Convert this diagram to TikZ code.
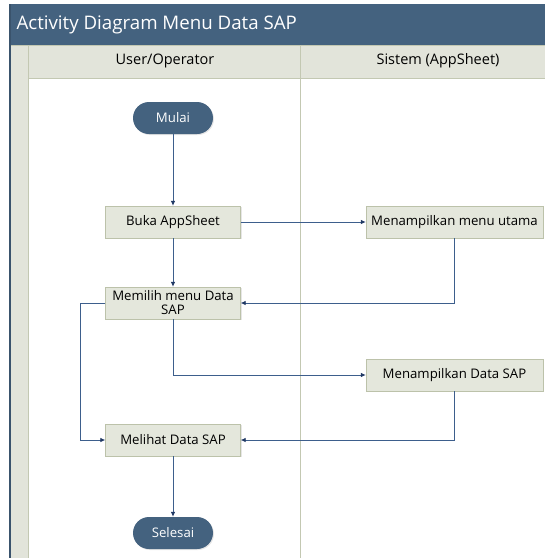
\documentclass[tikz,border=0pt]{standalone}
\usepackage{fontspec}
\setmainfont{Open Sans}
\usetikzlibrary{arrows.meta,shadows}
\definecolor{titlebg}{HTML}{44627F}
\definecolor{lanebg}{HTML}{E2E4DA}
\definecolor{laneline}{HTML}{C3C8B2}
\definecolor{actbg}{HTML}{E4E7DC}
\definecolor{actline}{HTML}{BCC2AA}
\definecolor{flow}{HTML}{3D5E8C}
\definecolor{tip}{HTML}{1F3864}
\begin{document}
\begin{tikzpicture}[x=1pt,y=-1pt,
 act/.style={rectangle,draw=actline,fill=actbg,minimum width=135pt,
             minimum height=32pt,align=center,font=\fontsize{13.2}{14}\selectfont,
             inner sep=1pt,drop shadow={opacity=0.2,shadow xshift=1pt,shadow yshift=-1pt}},
 term/.style={rectangle,rounded corners=16pt,fill=titlebg,text=white,minimum width=80pt,
             minimum height=32pt,font=\fontsize{13.2}{14}\selectfont,
             drop shadow={opacity=0.2,shadow xshift=1pt,shadow yshift=-1pt}},
 arrow/.style={-{Latex[length=5pt,width=4.5pt,color=tip]},draw=flow,line width=0.8pt}]
\useasboundingbox (0,0) rectangle (545,558);
% frame and lanes
\fill[titlebg] (9,4) rectangle (545,45);
\draw[titlebg!85!black,line width=1.2pt] (10,4) -- (10,558);
\fill[lanebg] (11,45) rectangle (545,78);
\fill[lanebg] (11,45) rectangle (28,558);
\draw[laneline] (28,45) -- (28,558) (28,78) -- (545,78) (300,45) -- (300,558)
  (11,45) -- (545,45);
\node[anchor=west,text=white,font=\fontsize{18.7}{20}\selectfont] (title) at (13,25)
  {Activity Diagram Menu Data SAP};
\node[font=\fontsize{14.5}{16}\selectfont] (user) at (165,61) {User/Operator};
\node[font=\fontsize{14.5}{16}\selectfont] (sistem) at (438,61) {Sistem (AppSheet)};
% activities
\node[term] (mulai) at (173,118) {Mulai};
\node[act] (buka) at (173,222) {Buka AppSheet};
\node[act,minimum width=177pt] (menu) at (454.5,222) {Menampilkan menu utama};
\node[act] (pilih) at (173,303) {Memilih menu Data\\SAP};
\node[act,minimum width=177pt] (tampil) at (454.5,375) {Menampilkan Data SAP};
\node[act] (lihat) at (173,440) {Melihat Data SAP};
\node[term] (selesai) at (173,533) {Selesai};
\coordinate (kiri) at (80,303);
% flows
\draw[arrow] (mulai)--(buka);
\draw[arrow] (buka)--(menu);
\draw[arrow] (menu.south) |- (pilih.east);
\draw[arrow] (buka)--(pilih);
\draw[arrow] (pilih.south) |- (tampil.west);
\draw[arrow] (pilih.west)--(kiri) |- (lihat.west);
\draw[arrow] (tampil.south) |- (lihat.east);
\draw[arrow] (lihat)--(selesai);
\end{tikzpicture}
\end{document}
